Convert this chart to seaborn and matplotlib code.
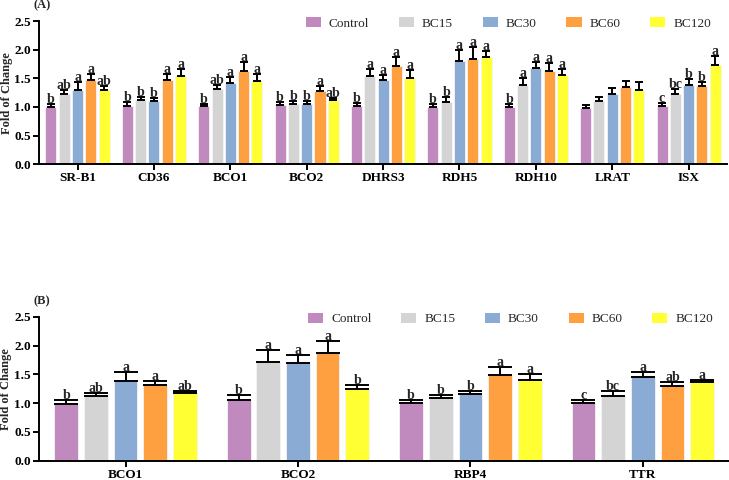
import numpy as np
import pandas as pd
import matplotlib
matplotlib.use("Agg")
import matplotlib.pyplot as plt
import seaborn as sns

sns.set_style("ticks")
plt.rcParams['font.family'] = ['Liberation Serif', 'DejaVu Serif']

groups = ["Control", "BC15", "BC30", "BC60", "BC120"]
colors = ["#C08ABE", "#D4D4D4", "#8AABD4", "#FFA040", "#FFFF33"]

# Panel A
genes_a = ["SR-B1", "CD36", "BCO1", "BCO2", "DHRS3", "RDH5", "RDH10", "LRAT", "ISX"]
mean_a = {
    "Control": [1.00, 1.02, 1.01, 1.03, 1.02, 1.00, 1.00, 0.99, 1.01],
    "BC15":    [1.23, 1.12, 1.32, 1.06, 1.54, 1.09, 1.38, 1.11, 1.23],
    "BC30":    [1.30, 1.11, 1.41, 1.06, 1.47, 1.80, 1.68, 1.22, 1.38],
    "BC60":    [1.47, 1.47, 1.62, 1.28, 1.72, 1.84, 1.63, 1.34, 1.36],
    "BC120":   [1.29, 1.54, 1.45, 1.13, 1.51, 1.87, 1.55, 1.30, 1.74],
}
err_a = {
    "Control": [0.06, 0.06, 0.05, 0.06, 0.05, 0.06, 0.05, 0.05, 0.06],
    "BC15":    [0.06, 0.06, 0.06, 0.05, 0.12, 0.08, 0.13, 0.07, 0.09],
    "BC30":    [0.13, 0.05, 0.12, 0.05, 0.09, 0.20, 0.10, 0.11, 0.11],
    "BC60":    [0.11, 0.11, 0.16, 0.08, 0.15, 0.20, 0.14, 0.11, 0.08],
    "BC120":   [0.07, 0.12, 0.12, 0.03, 0.14, 0.10, 0.11, 0.13, 0.15],
}
sig_a = {
    "Control": ["b", "b", "b", "b", "b", "b", "b", "", "c"],
    "BC15":    ["ab", "b", "ab", "b", "a", "b", "a", "", "bc"],
    "BC30":    ["a", "b", "a", "b", "a", "a", "a", "", "b"],
    "BC60":    ["a", "a", "a", "a", "a", "a", "a", "", "b"],
    "BC120":   ["ab", "a", "a", "ab", "a", "a", "a", "", "a"],
}

# Panel B
genes_b = ["BCO1", "BCO2", "RBP4", "TTR"]
mean_b = {
    "Control": [0.99, 1.05, 1.00, 1.00],
    "BC15":    [1.13, 1.72, 1.09, 1.12],
    "BC30":    [1.38, 1.69, 1.16, 1.45],
    "BC60":    [1.31, 1.88, 1.49, 1.30],
    "BC120":   [1.17, 1.24, 1.41, 1.37],
}
err_b = {
    "Control": [0.07, 0.09, 0.05, 0.05],
    "BC15":    [0.04, 0.20, 0.05, 0.10],
    "BC30":    [0.16, 0.14, 0.06, 0.10],
    "BC60":    [0.08, 0.20, 0.14, 0.07],
    "BC120":   [0.04, 0.08, 0.09, 0.04],
}
sig_b = {
    "Control": ["b", "b", "b", "c"],
    "BC15":    ["ab", "a", "b", "bc"],
    "BC30":    ["a", "a", "b", "a"],
    "BC60":    ["a", "a", "a", "ab"],
    "BC120":   ["ab", "b", "a", "a"],
}


def long_df(genes, means):
    rows = []
    for g in groups:
        for gene, v in zip(genes, means[g]):
            rows.append({"gene": gene, "group": g, "value": v})
    return pd.DataFrame(rows)


def draw_panel(ax, genes, means, errs, sigs, width, gap, capsize, label):
    df = long_df(genes, means)
    sns.barplot(data=df, x="gene", y="value", hue="group", order=genes,
                hue_order=groups, palette=colors, saturation=1, width=width,
                gap=gap, errorbar=None, edgecolor="#f4f4f4", linewidth=0.6,
                ax=ax, legend=False)
    # one-sided error bars + significance letters
    for g, cont in zip(groups, ax.containers):
        for bar, err, s in zip(cont, errs[g], sigs[g]):
            xc = bar.get_x() + bar.get_width() / 2
            h = bar.get_height()
            ax.errorbar(xc, h, yerr=[[0], [err]], fmt="none", ecolor="black",
                        elinewidth=1.4, capsize=capsize, capthick=1.4)
            if s:
                ax.text(xc, h + err - 0.035, s, ha="center", va="bottom",
                        fontsize=10, fontweight="bold")
    ax.set_ylim(0, 2.5)
    ax.set_yticks(np.arange(0, 2.51, 0.5))
    ax.set_xlim(-0.5, len(genes) - 0.5)
    ax.set_xlabel("")
    ax.set_ylabel("Fold of Change", fontsize=9, fontweight="bold")
    ax.yaxis.set_label_coords(-0.039, 0.5)
    ax.yaxis.set_major_formatter(matplotlib.ticker.FormatStrFormatter("%.1f"))
    for t in ax.get_xticklabels() + ax.get_yticklabels():
        t.set_fontweight("bold")
        t.set_fontsize(9.5)
    ax.tick_params(width=1.4, length=4, colors="black", pad=2)
    sns.despine(ax=ax)
    for sp in ["left", "bottom"]:
        ax.spines[sp].set_linewidth(1.4)
        ax.spines[sp].set_color("black")
    handles = [matplotlib.patches.Patch(facecolor=c, edgecolor="none") for c in colors]
    ax.legend(handles, groups, ncol=5, frameon=False, loc="lower right",
              bbox_to_anchor=(0.977, 0.94), fontsize=9.5, handlelength=1.15,
              handleheight=0.75, columnspacing=2.25, handletextpad=0.6,
              borderaxespad=0, borderpad=0)
    ax.text(-0.009, 1.11, label, transform=ax.transAxes, ha="left", va="center",
            fontsize=9, fontweight="bold")


fig = plt.figure(figsize=(7.29, 4.8), dpi=100)
ax_a = fig.add_axes([0.054, 0.658, 0.943, 0.298])
ax_b = fig.add_axes([0.054, 0.040, 0.946, 0.300])

draw_panel(ax_a, genes_a, mean_a, err_a, sig_a, 0.87, 0.17, 3.0, "(A)")
draw_panel(ax_b, genes_b, mean_b, err_b, sig_b, 0.86, 0.2, 8.5, "(B)")

fig.savefig("out.png", dpi=100)
